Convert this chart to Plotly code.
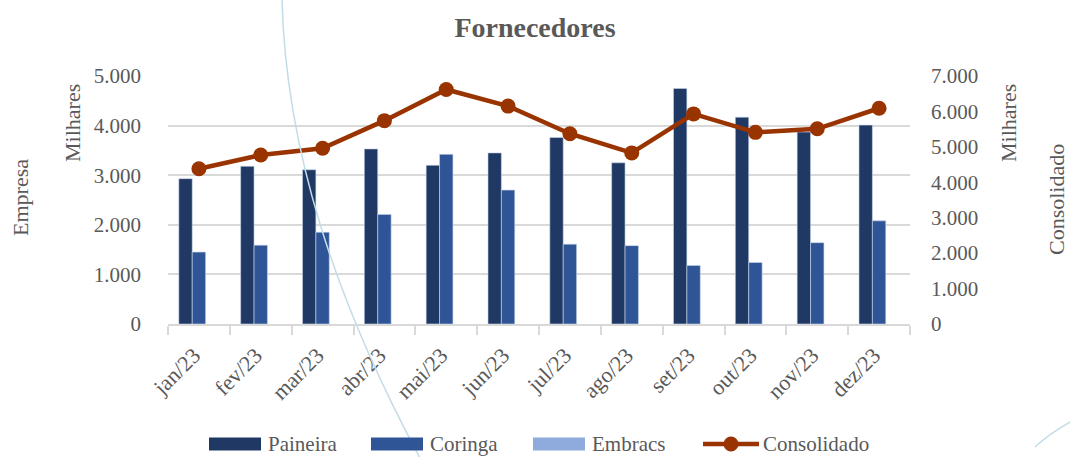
import plotly.graph_objects as go

# ---------------------------------------------------------------------------
# Data (valores em R$ mil)
# ---------------------------------------------------------------------------

meses = ["jan/23", "fev/23", "mar/23", "abr/23", "mai/23", "jun/23",
         "jul/23", "ago/23", "set/23", "out/23", "nov/23", "dez/23"]
paineira = [2930, 3180, 3110, 3530, 3200, 3450, 3760, 3250, 4750, 4170, 3870, 4010]
coringa = [1450, 1590, 1850, 2210, 3420, 2700, 1610, 1580, 1180, 1240, 1640, 2080]
embracs = [0, 0, 0, 0, 0, 0, 0, 0, 0, 0, 0, 0]
consolidado = [4380, 4770, 4960, 5740, 6620, 6150, 5370, 4830, 5930, 5410, 5510, 6090]

FONT = "Liberation Serif"
GREY = "#595959"
GRID = "#d9d9d9"
C_PAINEIRA, C_CORINGA, C_EMBRACS, C_CONS = "#203864", "#2f5597", "#8faadc", "#993300"

# plot area in pixels (used to place the free annotations / legend)
W, H = 1070, 457
L, R, T, B = 168, 910, 76, 324


def px(x):
    return (x - L) / (R - L)


def py(y):
    return (B - y) / (B - T)


fig = go.Figure()


def _bar(y, name, color, edge=0.6):
    return go.Bar(
        x=meses,
        y=y,
        name=name,
        marker=dict(color=color, line=dict(color="#c9d6ec", width=edge)),
        yaxis="y",
    )


fig.add_trace(_bar(paineira, "Paineira", C_PAINEIRA))
fig.add_trace(_bar(coringa, "Coringa", C_CORINGA))
fig.add_trace(_bar(embracs, "Embracs", C_EMBRACS, edge=0))
fig.add_trace(
    go.Scatter(
        x=meses,
        y=consolidado,
        name="Consolidado",
        mode="lines+markers",
        line=dict(color=C_CONS, width=4.5),
        marker=dict(size=15, color=C_CONS),
        yaxis="y2",
    )
)

# axis titles (Excel-style: title + display units)
labels = [
    ("Empresa", 20, 198),
    ("Milhares", 72, 123),
    ("Milhares", 1008, 123),
    ("Consolidado", 1056, 200),
]
annotations = [
    dict(text=t, x=px(x), y=py(y), xref="paper", yref="paper",
         textangle=-90, showarrow=False, xanchor="center", yanchor="middle",
         font=dict(family=FONT, size=22, color=GREY))
    for t, x, y in labels
]

# faint decorative arcs of the slide background
shapes = [
    dict(type="path", xref="paper", yref="paper", layer="above",
         path=(f"M {px(282)},{py(0)} C {px(286)},{py(150)} {px(335)},{py(300)} "
               f"{px(420)},{py(458)}"),
         line=dict(color="#c3dde8", width=1.5)),
    dict(type="path", xref="paper", yref="paper", layer="above",
         path=f"M {px(1035)},{py(447)} Q {px(1050)},{py(433)} {px(1072)},{py(421)}",
         line=dict(color="#c3dde8", width=1.5)),
]

# legend drawn Excel-style (wide swatches)
LEG_Y = 444
legend_items = [
    ("Paineira", "bar", C_PAINEIRA, 209, 261, 266),
    ("Coringa", "bar", C_CORINGA, 371, 423, 428),
    ("Embracs", "bar", C_EMBRACS, 533, 585, 590),
    ("Consolidado", "line", C_CONS, 703, 759, 761),
]
for name, kind, color, x0, x1, xt in legend_items:
    if kind == "bar":
        shapes.append(dict(type="rect", xref="paper", yref="paper",
                           x0=px(x0), x1=px(x1), y0=py(LEG_Y - 6.5), y1=py(LEG_Y + 6.5),
                           fillcolor=color, line=dict(width=0)))
    else:
        shapes.append(dict(type="line", xref="paper", yref="paper",
                           x0=px(x0), x1=px(x1), y0=py(LEG_Y), y1=py(LEG_Y),
                           line=dict(color=color, width=4.5)))
        xc = (x0 + x1) / 2
        shapes.append(dict(type="circle", xref="paper", yref="paper",
                           x0=px(xc - 7.5), x1=px(xc + 7.5),
                           y0=py(LEG_Y + 7.5), y1=py(LEG_Y - 7.5),
                           fillcolor=color, line=dict(width=0)))
    annotations.append(dict(text=name, x=px(xt), y=py(LEG_Y), xref="paper",
                            yref="paper", showarrow=False, xanchor="left",
                            yanchor="middle",
                            font=dict(family=FONT, size=21, color=GREY)))

fig.update_layout(
    width=W,
    height=H,
    margin=dict(l=L, r=W - R, t=T, b=H - B, autoexpand=False),
    paper_bgcolor="white",
    plot_bgcolor="white",
    separators=",.",
    font=dict(family=FONT, size=21, color=GREY),
    title=dict(text="<b>Fornecedores</b>", x=0.5, xanchor="center",
               y=1 - 27 / H, yanchor="middle",
               font=dict(family=FONT, size=28, color=GREY)),
    barmode="group",
    bargap=0.35,
    bargroupgap=0,
    showlegend=False,
    xaxis=dict(
        type="category",
        range=[-0.5, len(meses) - 0.5],
        automargin=False,
        tickson="boundaries",
        ticks="outside",
        ticklen=9,
        tickcolor=GRID,
        tickwidth=1.5,
        showline=True,
        linecolor=GRID,
        linewidth=1.5,
        showgrid=False,
        tickangle=-45,
        ticklabelshift=-5,
        ticklabelstandoff=8,
        tickfont=dict(family=FONT, size=22, color=GREY),
    ),
    yaxis=dict(
        range=[0, 5000],
        dtick=1000,
        tickformat=",d",
        automargin=False,
        showgrid=True,
        gridcolor=GRID,
        gridwidth=1.5,
        zeroline=False,
        showline=False,
        ticklabelstandoff=26,
        tickfont=dict(family=FONT, size=21, color=GREY),
    ),
    yaxis2=dict(
        range=[0, 7000],
        dtick=1000,
        tickformat=",d",
        automargin=False,
        overlaying="y",
        side="right",
        showgrid=False,
        zeroline=False,
        showline=False,
        ticklabelstandoff=20,
        tickfont=dict(family=FONT, size=21, color=GREY),
    ),
    annotations=annotations,
    shapes=shapes,
)

# drop the default page margin so the figure sits at the window's top-left corner
fig.write_html(
    "out.html",
    config={"displayModeBar": False},
    post_script="document.body.style.margin = '0';",
)
